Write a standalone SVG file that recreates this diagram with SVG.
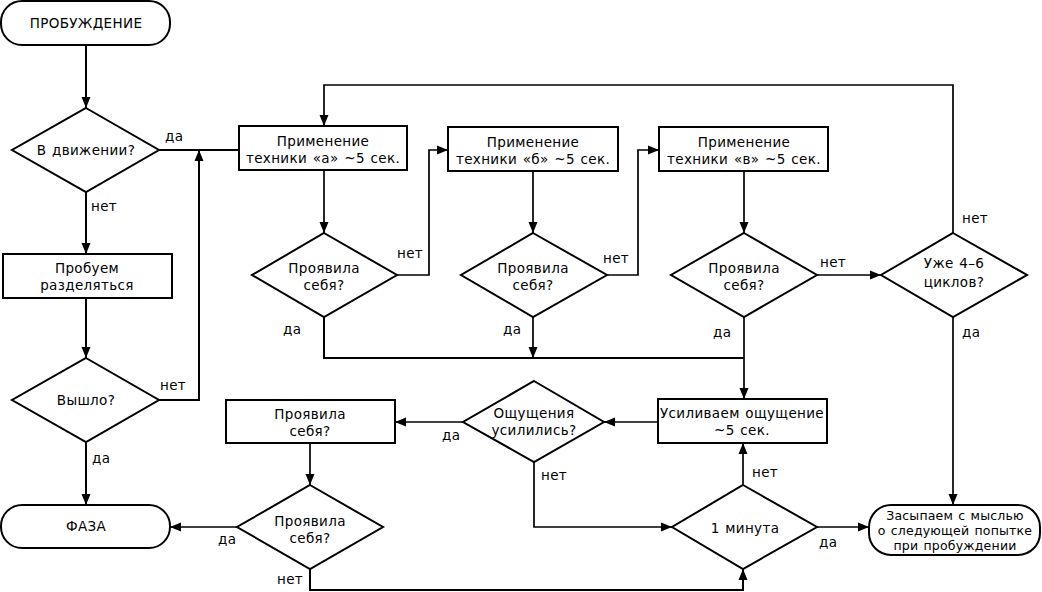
<svg xmlns="http://www.w3.org/2000/svg" width="1042" height="592" viewBox="0 0 1042 592">
<defs>
<marker id="ah" markerUnits="userSpaceOnUse" markerWidth="12" markerHeight="10" refX="11" refY="5" orient="auto">
<path d="M0,0.5 L11,5 L0,9.5 z" fill="#000"/>
</marker>
<style>
.sh{fill:#fff;stroke:#000;stroke-width:2}
.t{font-family:"DejaVu Sans",Verdana,sans-serif;font-size:13.5px;letter-spacing:0.35px;word-spacing:1px;fill:#000;text-anchor:middle}
.s{font-family:"DejaVu Sans",Verdana,sans-serif;font-size:12.5px;letter-spacing:0.2px;word-spacing:1px;fill:#000;text-anchor:middle}
.l{font-family:"DejaVu Sans",Verdana,sans-serif;font-size:13.5px;letter-spacing:0.35px;fill:#000}
.c{fill:none;stroke:#000;stroke-width:2}
.c2{fill:none;stroke:#000;stroke-width:1.7}
.a{marker-end:url(#ah)}
</style>
</defs>
<rect width="1042" height="592" fill="#fff"/>
<g id="connectors">
<path class="c a" d="M86,45 V108"/>
<path class="c" d="M159,150 H239"/>
<path class="c a" d="M159,400 H199 V150"/>
<path class="c a" d="M86,192 V254"/>
<path class="c a" d="M86,298 V358"/>
<path class="c a" d="M86,442 V505"/>
<path class="c2 a" d="M324,170 V233"/>
<path class="c2 a" d="M397,275 H429 V150 H448"/>
<path class="c2 a" d="M533,171 V233"/>
<path class="c2 a" d="M607,275 H638 V150 H659"/>
<path class="c2 a" d="M744,171 V233"/>
<path class="c2 a" d="M817,275 H881"/>
<path class="c2 a" d="M953,233 V85 H324 V126"/>
<path class="c2 a" d="M953,317 V505"/>
<path class="c" d="M324,317 V358 H744"/>
<path class="c2 a" d="M533,317 V358"/>
<path class="c2 a" d="M744,317 V399"/>
<path class="c2 a" d="M658,422 H604"/>
<path class="c2 a" d="M463,422 H395"/>
<path class="c2 a" d="M534,462 V527 H672"/>
<path class="c2 a" d="M743,485 V443"/>
<path class="c2 a" d="M817,527 H869"/>
<path class="c2 a" d="M310,443 V485"/>
<path class="c2 a" d="M237,527 H170"/>
<path class="c a" d="M310,569 V590 H743 V569"/>
<text class="l" x="165" y="141">да</text>
<text class="l" x="91" y="211">нет</text>
<text class="l" x="160" y="390">нет</text>
<text class="l" x="92" y="463">да</text>
<text class="l" x="397" y="258">нет</text>
<text class="l" x="283" y="334">да</text>
<text class="l" x="603" y="263">нет</text>
<text class="l" x="503" y="334">да</text>
<text class="l" x="820" y="267">нет</text>
<text class="l" x="713" y="337">да</text>
<text class="l" x="962" y="223">нет</text>
<text class="l" x="962" y="337">да</text>
<text class="l" x="442" y="440">да</text>
<text class="l" x="541" y="480">нет</text>
<text class="l" x="752" y="477">нет</text>
<text class="l" x="819" y="547">да</text>
<text class="l" x="218" y="544">да</text>
<text class="l" x="277" y="584">нет</text>
</g>
<g id="start">
<rect class="sh" x="1" y="1" width="169" height="44" rx="21"/>
<text class="t" x="86" y="28">ПРОБУЖДЕНИЕ</text>
</g>
<g id="inMotion">
<path class="sh" d="M86,108 L159,150 L86,192 L12,150 z"/>
<text class="t" x="86" y="155">В движении?</text>
</g>
<g id="trySeparate">
<rect class="sh" x="3" y="254" width="169" height="44"/>
<text class="t" x="87" y="273">Пробуем</text>
<text class="t" x="87" y="290">разделяться</text>
</g>
<g id="worked">
<path class="sh" d="M86,358 L159,400 L86,442 L12,400 z"/>
<text class="t" x="86" y="405">Вышло?</text>
</g>
<g id="phase">
<rect class="sh" x="1" y="505" width="169" height="43" rx="21"/>
<text class="t" x="86" y="531">ФАЗА</text>
</g>
<g id="techA">
<rect class="sh" x="239" y="126" width="168" height="44"/>
<text class="t" x="323" y="146">Применение</text>
<text class="t" x="323" y="163">техники «а» ~5 сек.</text>
</g>
<g id="techB">
<rect class="sh" x="448" y="127" width="170" height="44"/>
<text class="t" x="533" y="147">Применение</text>
<text class="t" x="533" y="164">техники «б» ~5 сек.</text>
</g>
<g id="techC">
<rect class="sh" x="659" y="127" width="169" height="44"/>
<text class="t" x="744" y="147">Применение</text>
<text class="t" x="744" y="164">техники «в» ~5 сек.</text>
</g>
<g id="checkA">
<path class="sh" d="M324,233 L397,275 L324,317 L252,275 z"/>
<text class="t" x="324" y="273">Проявила</text>
<text class="t" x="324" y="290">себя?</text>
</g>
<g id="checkB">
<path class="sh" d="M533,233 L607,275 L533,317 L461,275 z"/>
<text class="t" x="533" y="273">Проявила</text>
<text class="t" x="533" y="290">себя?</text>
</g>
<g id="checkC">
<path class="sh" d="M744,233 L817,275 L744,317 L671,275 z"/>
<text class="t" x="744" y="273">Проявила</text>
<text class="t" x="744" y="290">себя?</text>
</g>
<g id="cycles">
<path class="sh" d="M953,233 L1027,275 L953,317 L881,275 z"/>
<text class="t" x="954" y="268">Уже 4–6</text>
<text class="t" x="954" y="287">циклов?</text>
</g>
<g id="intensify">
<rect class="sh" x="658" y="399" width="169" height="44"/>
<text class="t" x="742" y="418">Усиливаем ощущение</text>
<text class="t" x="742" y="435">~5 сек.</text>
</g>
<g id="intensified">
<path class="sh" d="M534,381 L604,422 L534,462 L463,422 z"/>
<text class="t" x="534" y="418">Ощущения</text>
<text class="t" x="534" y="435">усилились?</text>
</g>
<g id="checkBox">
<rect class="sh" x="226" y="400" width="169" height="43"/>
<text class="t" x="310" y="419">Проявила</text>
<text class="t" x="310" y="436">себя?</text>
</g>
<g id="checkD">
<path class="sh" d="M310,485 L383,527 L310,569 L237,527 z"/>
<text class="t" x="310" y="526">Проявила</text>
<text class="t" x="310" y="543">себя?</text>
</g>
<g id="minute">
<path class="sh" d="M743,485 L817,527 L743,569 L672,527 z"/>
<text class="t" x="745" y="533">1 минута</text>
</g>
<g id="sleep">
<rect class="sh" x="869" y="505" width="171" height="50" rx="22"/>
<text class="s" x="955" y="520">Засыпаем с мыслью</text>
<text class="s" x="955" y="535">о следующей попытке</text>
<text class="s" x="955" y="550">при пробуждении</text>
</g>
</svg>
